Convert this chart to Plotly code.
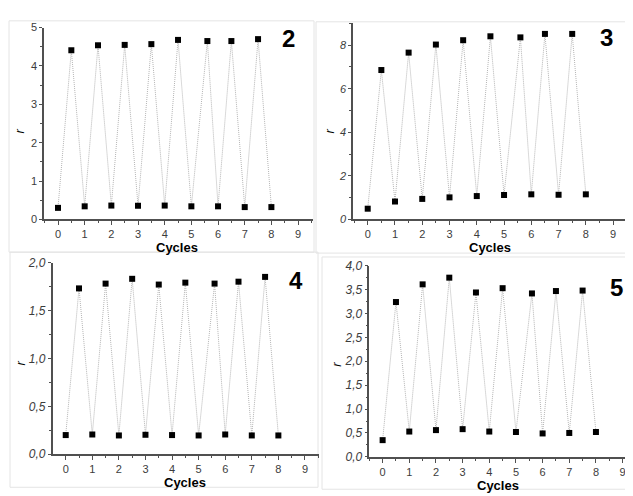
import plotly.graph_objects as go

# ---- data ----
cycles = [0, 0.5, 1, 1.5, 2, 2.5, 3, 3.5, 4, 4.5, 5, 5.6, 6, 6.5, 7, 7.5, 8]
r_panel2 = [0.30, 4.41, 0.34, 4.54, 0.36, 4.55, 0.355, 4.57, 0.36, 4.68, 0.34, 4.65, 0.34, 4.65, 0.32, 4.70, 0.32]
r_panel3 = [0.49, 6.86, 0.82, 7.66, 0.94, 8.03, 1.01, 8.23, 1.07, 8.41, 1.12, 8.36, 1.15, 8.52, 1.13, 8.52, 1.15]
r_panel4 = [0.20, 1.73, 0.206, 1.78, 0.196, 1.83, 0.203, 1.77, 0.20, 1.79, 0.196, 1.78, 0.206, 1.80, 0.196, 1.85, 0.196]
r_panel5 = [0.35, 3.24, 0.53, 3.61, 0.56, 3.75, 0.58, 3.44, 0.53, 3.53, 0.52, 3.42, 0.49, 3.47, 0.50, 3.48, 0.52]
panel_labels = ["2", "3", "4", "5"]
x_title = "Cycles"
y_title = "r"

W, H = 633, 496
OFF = 8  # page body margin in the browser
FONT = "Liberation Sans, Arial, sans-serif"
AX = "#505050"
TICKC = "#3c3c3c"

def px(x):
    return (x - OFF) / W

def py(y):
    return 1 - (y - OFF) / H

panels = [
    dict(r=r_panel2, xl=44, xr=313, yb=218.3, yt=21, xrng=[-0.525, 9.56], yrng=[0, 5], dt=1, mdt=0.5,
         ital=False, fs=11, fmt="d", lab=(288.7, 32), rlab=(20, 128), clab=(177, 247)),
    dict(r=r_panel3, xl=353, xr=627, yb=218.3, yt=16.7, xrng=[-0.54, 9.51], yrng=[0, 9], dt=2, mdt=1,
         ital=True, fs=11, fmt="d", lab=(606, 31), rlab=(330, 128), clab=(490, 247)),
    dict(r=r_panel4, xl=52.7, xr=319.3, yb=460, yt=262.7, xrng=[-0.49, 9.54], yrng=[0, 2], dt=0.5, mdt=0.25,
         ital=True, fs=12, fmt=".1f", lab=(296, 281), rlab=(20.7, 366), clab=(185, 489)),
    dict(r=r_panel5, xl=369.3, xr=633, yb=462.7, yt=266, xrng=[-0.50, 9.39], yrng=[0, 4], dt=0.5, mdt=0.25,
         ital=True, fs=12, fmt=".1f", lab=(616.7, 288), rlab=(337, 368), clab=(498, 492)),
]

fig = go.Figure()
annotations = []
shapes = []

frames = [(9, 14, 314, 252), (316, 15, 629, 253), (10, 252, 318, 494), (322, 257, 633, 496)]
for (x0, y0, x1, y1) in frames:
    shapes.append(dict(type="rect", xref="paper", yref="paper",
                       x0=px(x0), x1=px(x1), y0=py(y1), y1=py(y0),
                       line=dict(color="#e4e4e4", width=1), layer="below"))

for i, p in enumerate(panels):
    n = "" if i == 0 else str(i + 1)
    fig.add_trace(go.Scatter(
        x=cycles, y=p["r"], mode="lines+markers",
        line=dict(color="#b4b4b4", width=1, dash="1px,1px"),
        marker=dict(symbol="square", size=6, color="black"),
        xaxis="x" + n, yaxis="y" + n, showlegend=False, cliponaxis=False))
    fig.update_layout(**{
        "xaxis" + n: dict(
            domain=[px(p["xl"]), px(p["xr"])], range=p["xrng"], anchor="y" + n,
            tickmode="linear", tick0=0, dtick=1, ticks="outside", ticklen=4, tickwidth=1.2,
            tickcolor=AX, showline=True, linecolor=AX, linewidth=1.5,
            showgrid=False, zeroline=False,
            tickfont=dict(family=FONT, size=11, color=TICKC),
            minor=dict(dtick=0.5, tick0=0, ticks="outside", ticklen=2, tickcolor=AX, showgrid=False),
        ),
        "yaxis" + n: dict(
            domain=[py(p["yb"]), py(p["yt"])], range=p["yrng"], anchor="x" + n,
            tickmode="linear", tick0=0, dtick=p["dt"], ticks="outside", ticklen=3, tickwidth=1.2,
            tickcolor=AX, showline=True, linecolor=AX, linewidth=1.5,
            showgrid=False, zeroline=False, tickformat=p["fmt"],
            tickfont=dict(family=FONT, size=p["fs"], color=TICKC,
                          style="italic" if p["ital"] else "normal"),
            minor=dict(dtick=p["mdt"], tick0=0, ticks="outside", ticklen=2, tickcolor=AX, showgrid=False),
        ),
    })
    annotations.append(dict(text="<b>%s</b>" % panel_labels[i], x=px(p["lab"][0]), y=py(p["lab"][1]),
                            xref="paper", yref="paper", showarrow=False,
                            xanchor="center", yanchor="middle",
                            font=dict(family=FONT, size=24, color="black")))
    annotations.append(dict(text="<i>%s</i>" % y_title, x=px(p["rlab"][0]), y=py(p["rlab"][1]),
                            xref="paper", yref="paper", showarrow=False, textangle=-90,
                            xanchor="center", yanchor="middle",
                            font=dict(family=FONT, size=13, color="black")))
    annotations.append(dict(text="<b>%s</b>" % x_title, x=px(p["clab"][0]), y=py(p["clab"][1]),
                            xref="paper", yref="paper", showarrow=False,
                            xanchor="center", yanchor="middle",
                            font=dict(family=FONT, size=13, color="black")))

fig.update_layout(
    width=W, height=H, margin=dict(l=0, r=0, t=0, b=0),
    paper_bgcolor="white", plot_bgcolor="white",
    separators=",.", annotations=annotations, shapes=shapes,
    font=dict(family=FONT),
)

fig.write_html("out.html")
